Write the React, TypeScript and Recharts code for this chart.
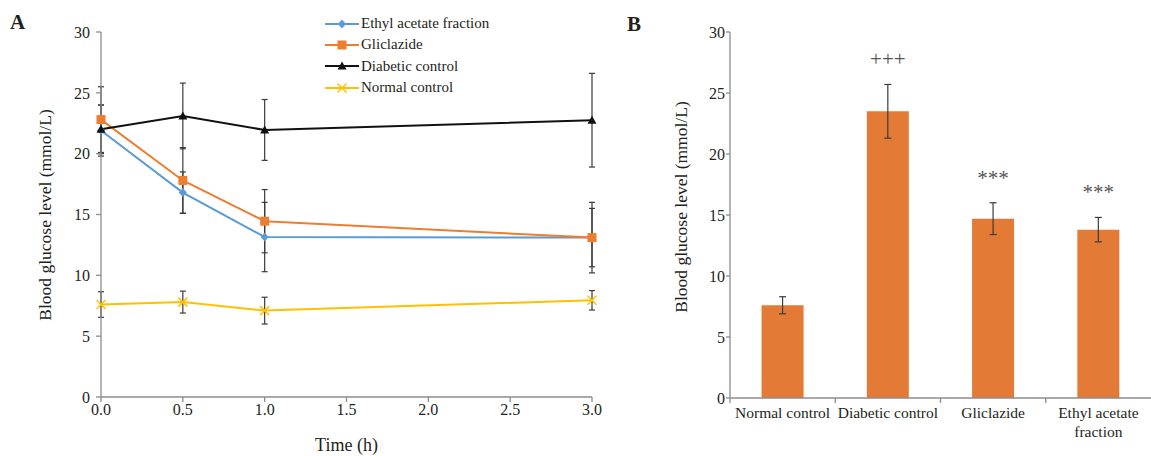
import { Bar, BarChart, ErrorBar, LabelList, Legend, Line, LineChart, XAxis, YAxis } from 'recharts'

// panel A: blood glucose over time (h)
const TIMES = [0, 0.5, 1, 3]
const ETHYL = [21.9, 16.8, 13.15, 13.1]
const ETHYL_ERR = [2.1, 1.7, 2.85, 2.4]
const GLICLAZIDE = [22.8, 17.8, 14.45, 13.1]
const GLICLAZIDE_ERR = [2.7, 2.7, 2.6, 2.9]
const DIABETIC = [22.0, 23.1, 21.95, 22.75]
const DIABETIC_ERR = [2.0, 2.7, 2.5, 3.85]
const NORMAL = [7.6, 7.8, 7.1, 7.95]
const NORMAL_ERR = [1.05, 0.9, 1.1, 0.8]

const TIME_TICKS = [0, 0.5, 1, 1.5, 2, 2.5, 3]
const GLUCOSE_TICKS = [0, 5, 10, 15, 20, 25, 30]

// panel B: group means
const GROUPS = ['Normal control', 'Diabetic control', 'Gliclazide', 'Ethyl acetate fraction']
const GROUP_MEANS = [7.6, 23.5, 14.7, 13.8]
const GROUP_ERR = [0.7, 2.2, 1.3, 1.0]
const GROUP_MARKS = ['', '+++', '***', '***']

const FONT = '"Liberation Serif", "Times New Roman", serif'
const AXIS = '#8c8c8c'
const TEXT = '#231f20'
const ERR = '#3a3a3a'

const BLUE = '#5b9bd5'
const ORANGE = '#ed7d31'
const BLACK = '#111111'
const YELLOW = '#ffc000'
const BAR = '#e37a36'

type Shape = 'diamond' | 'square' | 'triangle' | 'cross'

const SERIES: { key: string; name: string; color: string; shape: Shape }[] = [
  { key: 'ethyl', name: 'Ethyl acetate fraction', color: BLUE, shape: 'diamond' },
  { key: 'gliclazide', name: 'Gliclazide', color: ORANGE, shape: 'square' },
  { key: 'diabetic', name: 'Diabetic control', color: BLACK, shape: 'triangle' },
  { key: 'normal', name: 'Normal control', color: YELLOW, shape: 'cross' },
]

const timeData = TIMES.map((t, i) => ({
  t,
  ethyl: ETHYL[i],
  ethylErr: ETHYL_ERR[i],
  gliclazide: GLICLAZIDE[i],
  gliclazideErr: GLICLAZIDE_ERR[i],
  diabetic: DIABETIC[i],
  diabeticErr: DIABETIC_ERR[i],
  normal: NORMAL[i],
  normalErr: NORMAL_ERR[i],
}))

const groupData = GROUPS.map((name, i) => ({
  name,
  mean: GROUP_MEANS[i],
  err: GROUP_ERR[i],
  mark: GROUP_MARKS[i],
}))

function marker(shape: Shape, cx: number, cy: number, color: string, key?: string | number) {
  if (shape === 'diamond') {
    return <path key={key} d={`M${cx},${cy - 4.5}L${cx + 4},${cy}L${cx},${cy + 4.5}L${cx - 4},${cy}Z`} fill={color} />
  }
  if (shape === 'square') {
    return <rect key={key} x={cx - 4.5} y={cy - 4.5} width={9} height={9} fill={color} />
  }
  if (shape === 'triangle') {
    return <path key={key} d={`M${cx},${cy - 4.5}L${cx + 4.5},${cy + 3.5}L${cx - 4.5},${cy + 3.5}Z`} fill={color} />
  }
  return (
    <g key={key} stroke={color} strokeWidth={1.5}>
      <line x1={cx - 4.5} y1={cy - 4.5} x2={cx + 4.5} y2={cy + 4.5} />
      <line x1={cx - 4.5} y1={cy + 4.5} x2={cx + 4.5} y2={cy - 4.5} />
    </g>
  )
}

const dotFor = (shape: Shape, color: string) => (props: any) => {
  const { cx, cy, index } = props
  if (cx == null || cy == null) return <g key={index} />
  return marker(shape, cx, cy, color, index)
}

function SeriesLegend() {
  return (
    <div style={{ fontFamily: FONT, fontSize: 15, color: TEXT, lineHeight: 1 }}>
      {SERIES.map((s) => (
        <div key={s.key} style={{ display: 'flex', alignItems: 'center', height: 21.3 }}>
          <svg width={36} height={12} style={{ display: 'block' }}>
            <line x1={0} y1={6} x2={34} y2={6} stroke={s.color} strokeWidth={2} />
            {marker(s.shape, 17, 6, s.color)}
          </svg>
          <span>{s.name}</span>
        </div>
      ))}
    </div>
  )
}

const yTitle = (cx: number, cy: number) => () => (
  <text
    x={cx}
    y={cy}
    transform={`rotate(-90 ${cx} ${cy})`}
    textAnchor="middle"
    dominantBaseline="central"
    fontFamily={FONT}
    fontSize={17.5}
    fill={TEXT}
  >
    Blood glucose level (mmol/L)
  </text>
)

const BAND = 421 / GROUPS.length
const B_BOTTOM = 398

function GroupTick(props: any) {
  const { x, y, payload } = props
  const label: string = payload.value
  const words = label.split(' ')
  const lines = label.length > 18 ? [words.slice(0, -1).join(' '), words[words.length - 1]] : [label]
  return (
    <g>
      <line x1={x - BAND / 2} y1={B_BOTTOM} x2={x - BAND / 2} y2={B_BOTTOM + 5} stroke={AXIS} strokeWidth={1.3} />
      <text x={x} y={y + 1} textAnchor="middle" fontFamily={FONT} fontSize={15.5} fill={TEXT}>
        {lines.map((line, i) => (
          <tspan key={i} x={x} dy={i === 0 ? '0.71em' : '1.25em'}>
            {line}
          </tspan>
        ))}
      </text>
    </g>
  )
}

function MarkLabel(props: any) {
  const { x, y, width, height, value, index } = props
  if (!value) return null
  const pxPerUnit = height / GROUP_MEANS[index]
  const errTop = y - GROUP_ERR[index] * pxPerUnit
  return (
    <text x={x + width / 2} y={errTop - 18} textAnchor="middle" fontFamily={FONT} fontSize={21} fill="#555">
      {value}
    </text>
  )
}

const tickStyle = { fontFamily: FONT, fontSize: 16, fill: TEXT }

export default function App() {
  return (
    <div style={{ position: 'absolute', left: 0, top: 0, width: 1151, height: 456, background: '#fff', overflow: 'hidden' }}>
      <div style={{ position: 'absolute', left: 10, top: 10, fontFamily: FONT, fontWeight: 'bold', fontSize: 21, color: TEXT }}>A</div>
      <div style={{ position: 'absolute', left: 627, top: 12, fontFamily: FONT, fontWeight: 'bold', fontSize: 21, color: TEXT }}>B</div>

      <div style={{ position: 'absolute', left: 0, top: 0 }}>
        <LineChart width={620} height={456} data={timeData} margin={{ top: 32, right: 28, bottom: 0, left: 0 }}>
          <XAxis
            dataKey="t"
            type="number"
            domain={[0, 3]}
            ticks={TIME_TICKS}
            tickFormatter={(v: number) => v.toFixed(1)}
            height={59}
            stroke={AXIS}
            strokeWidth={1.3}
            tickSize={5}
            tick={tickStyle}
            label={{ value: 'Time (h)', position: 'insideBottom', offset: 5, style: { fontFamily: FONT, fontSize: 18, fill: TEXT } }}
          />
          <YAxis
            type="number"
            domain={[0, 30]}
            ticks={GLUCOSE_TICKS}
            width={101}
            stroke={AXIS}
            strokeWidth={1.3}
            tickSize={5}
            tickMargin={6}
            tick={tickStyle}
            label={yTitle(45, 215)}
          />
          <Legend
            layout="vertical"
            align="center"
            verticalAlign="middle"
            content={() => <SeriesLegend />}
            wrapperStyle={{ left: 325, top: 13, width: 'auto', height: 'auto' }}
          />
          {SERIES.map((s) => (
            <Line
              key={s.key}
              dataKey={s.key}
              name={s.name}
              stroke={s.color}
              strokeWidth={2}
              dot={dotFor(s.shape, s.color)}
              activeDot={false}
              isAnimationActive={false}
            >
              <ErrorBar dataKey={`${s.key}Err`} width={3} stroke={ERR} strokeWidth={1.2} direction="y" />
            </Line>
          ))}
        </LineChart>
      </div>

      <div style={{ position: 'absolute', left: 620, top: 0 }}>
        <BarChart
          width={531}
          height={456}
          data={groupData}
          margin={{ top: 32, right: 0, bottom: 0, left: 0 }}
          barCategoryGap="30%"
        >
          <XAxis
            dataKey="name"
            height={58}
            stroke={AXIS}
            strokeWidth={1.3}
            tickLine={false}
            interval={0}
            tick={<GroupTick />}
          />
          <YAxis
            type="number"
            domain={[0, 30]}
            ticks={GLUCOSE_TICKS}
            width={110}
            stroke={AXIS}
            strokeWidth={1.3}
            tickSize={4}
            tickMargin={1}
            tick={tickStyle}
            label={yTitle(61, 207)}
          />
          <Bar dataKey="mean" fill={BAR} isAnimationActive={false}>
            <ErrorBar dataKey="err" width={3.5} stroke={ERR} strokeWidth={1.2} direction="y" />
            <LabelList dataKey="mark" content={<MarkLabel />} />
          </Bar>
        </BarChart>
      </div>
    </div>
  )
}
